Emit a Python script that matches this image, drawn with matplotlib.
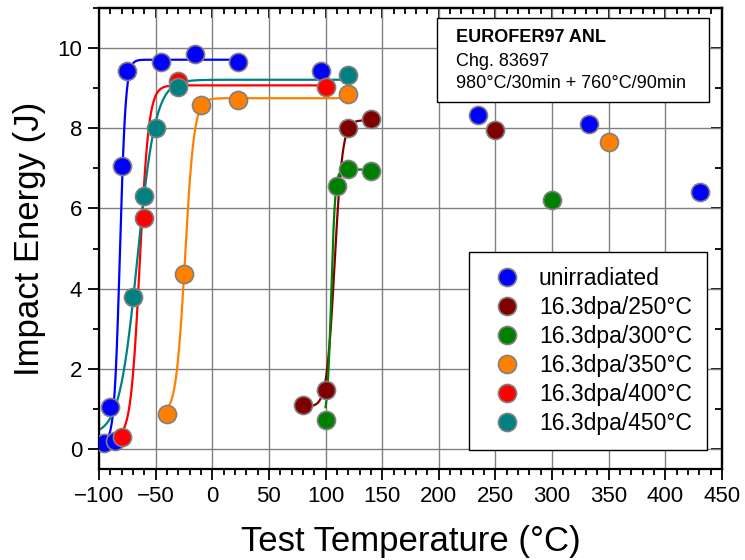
import matplotlib
matplotlib.use("Agg")
import matplotlib.pyplot as plt
from matplotlib.patches import Rectangle
from matplotlib.ticker import MultipleLocator
import numpy as np

plt.rcParams['font.family'] = ['Liberation Sans', 'DejaVu Sans']

# Messwerte (Test-Temperatur in °C, Kerbschlagarbeit in J)
series = ['unirradiated', '16.3dpa/250°C', '16.3dpa/300°C',
          '16.3dpa/350°C', '16.3dpa/400°C', '16.3dpa/450°C']
colors = ['#0000FF', '#800000', '#008000', '#FF8000', '#FF0000', '#008080']

t_unirr = [-96, -90, -86, -80, -75, -45, -15, 23, 96, 235, 333, 431]
e_unirr = [0.15, 1.04, 0.21, 7.05, 9.42, 9.65, 9.86, 9.65, 9.42, 8.33, 8.11, 6.40]
t_250 = [80, 100, 120, 140, 250]
e_250 = [1.09, 1.48, 8.00, 8.22, 7.96]
t_300 = [100, 110, 120, 140, 300]
e_300 = [0.71, 6.57, 6.99, 6.94, 6.22]
t_350 = [-40, -25, -10, 23, 120, 350]
e_350 = [0.87, 4.37, 8.59, 8.70, 8.86, 7.66]
t_400 = [-80, -60, -30, 100]
e_400 = [0.30, 5.77, 9.17, 9.03]
t_450 = [-70, -60, -50, -30, 120]
e_450 = [3.78, 6.30, 8.00, 9.03, 9.33]

temps = [t_unirr, t_250, t_300, t_350, t_400, t_450]
energies = [e_unirr, e_250, e_300, e_350, e_400, e_450]

# tanh-Fit: Lower Shelf, Upper Shelf, T0, Breite C, Fitbereich
fit_ls = [0.15, 1.05, 0.70, 0.85, 0.25, 0.35]
fit_us = [9.71, 8.20, 6.97, 8.75, 9.07, 9.21]
fit_t0 = [-81.5, 108, 105, -24, -64, -66]
fit_c = [5, 7, 3.5, 8, 8, 16]
fit_from = [-96, 80, 100, -40, -80, -100]
fit_to = [23, 140, 140, 120, 100, 120]

fig = plt.figure(figsize=(7.45, 5.6), dpi=100)
ax = fig.add_axes([99/745, 1 - 469/560, 623/745, 461/560])

# Fitkurven
for i in range(len(series)):
    tt = np.linspace(fit_from[i], fit_to[i], 400)
    a = (fit_us[i] + fit_ls[i]) / 2
    b = (fit_us[i] - fit_ls[i]) / 2
    ax.plot(tt, a + b*np.tanh((tt - fit_t0[i]) / fit_c[i]),
            color=colors[i], lw=1.6, zorder=2)

# Messpunkte
for i in range(len(series)):
    ax.plot(temps[i], energies[i], 'o', ms=13, mfc=colors[i], mec='#808080',
            mew=1.2, ls='none', label=series[i], zorder=3)

ax.set_xlim(-100, 450)
ax.set_ylim(-0.5, 11)
ax.set_xticks(np.arange(-100, 451, 50))
ax.xaxis.set_minor_locator(MultipleLocator(10))
ax.set_yticks(np.arange(0, 11, 2))
ax.yaxis.set_minor_locator(MultipleLocator(1))
ax.grid(True, which='major', color='#808080', lw=1.0)
ax.set_axisbelow(True)

ax.tick_params(which='major', direction='out', length=8, width=1.3, labelsize=16, pad=4)
ax.tick_params(which='minor', direction='out', length=4.5, width=1.3)
for s in ax.spines.values():
    s.set_linewidth(1.6)

# Ticks oben und rechts nach innen
top = ax.secondary_xaxis('top')
top.set_xticks(np.arange(-100, 451, 50))
top.xaxis.set_minor_locator(MultipleLocator(10))
top.tick_params(which='major', direction='in', length=7, width=1.3, labeltop=False)
top.tick_params(which='minor', direction='in', length=4, width=1.3)
top.spines['top'].set_linewidth(1.6)
right = ax.secondary_yaxis('right')
right.set_yticks(np.arange(0, 11, 2))
right.yaxis.set_minor_locator(MultipleLocator(1))
right.tick_params(which='major', direction='in', length=8, width=1.3, labelright=False)
right.tick_params(which='minor', direction='in', length=5, width=1.3)
right.spines['right'].set_linewidth(1.6)

ax.set_xlabel('Test Temperature (°C)', fontsize=25, labelpad=13)
ax.set_ylabel('Impact Energy (J)', fontsize=25, labelpad=8)

leg = ax.legend(loc='upper left', bbox_to_anchor=(469/745, 1 - 252/560),
                bbox_transform=fig.transFigure, borderaxespad=0, fontsize=16.5,
                numpoints=1, fancybox=False, framealpha=1, edgecolor='black',
                borderpad=0.65, handletextpad=0.4, labelspacing=0.26,
                handlelength=2.0)
leg.get_frame().set_linewidth(1.0)
leg.set_zorder(5)

# Infobox Material
fig.add_artist(Rectangle((437/745, 1 - 102/560), 272/745, 84/560,
                         transform=fig.transFigure, facecolor='white',
                         edgecolor='black', lw=1.0, zorder=5))
fig.text(456/745, 1 - 37.5/560, 'EUROFER97 ANL', fontsize=13, fontweight='bold',
         va='center', zorder=6)
fig.text(456/745, 1 - 61.5/560, 'Chg. 83697', fontsize=13, va='center', zorder=6)
fig.text(456/745, 1 - 83.5/560, '980°C/30min + 760°C/90min', fontsize=13,
         va='center', zorder=6)

fig.savefig('out.png', dpi=100)
